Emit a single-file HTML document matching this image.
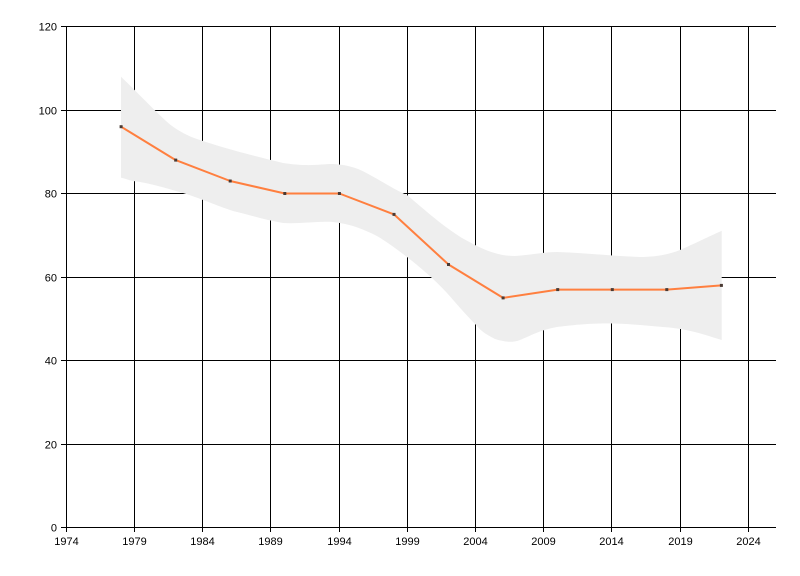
<!DOCTYPE html>
<html>
<head>
<meta charset="utf-8">
<style>
html,body{margin:0;padding:0;background:#fff;}
body{width:800px;height:576px;overflow:hidden;}
svg{display:block;}
text{font-family:"Liberation Sans",Arial,sans-serif;font-size:11px;fill:#000;}
</style>
</head>
<body>
<svg width="800" height="576" viewBox="0 0 800 576" xmlns="http://www.w3.org/2000/svg">
  <!-- grid -->
  <g stroke="#000" stroke-width="1" shape-rendering="crispEdges">
    <!-- horizontal -->
    <line x1="61" y1="26.5" x2="776" y2="26.5"/>
    <line x1="61" y1="110.5" x2="776" y2="110.5"/>
    <line x1="61" y1="193.5" x2="776" y2="193.5"/>
    <line x1="61" y1="277.5" x2="776" y2="277.5"/>
    <line x1="61" y1="360.5" x2="776" y2="360.5"/>
    <line x1="61" y1="444.5" x2="776" y2="444.5"/>
    <line x1="61" y1="527.5" x2="776" y2="527.5"/>
    <!-- vertical -->
    <line x1="66.5" y1="26" x2="66.5" y2="532"/>
    <line x1="134.5" y1="26" x2="134.5" y2="532"/>
    <line x1="202.5" y1="26" x2="202.5" y2="532"/>
    <line x1="270.5" y1="26" x2="270.5" y2="532"/>
    <line x1="339.5" y1="26" x2="339.5" y2="532"/>
    <line x1="407.5" y1="26" x2="407.5" y2="532"/>
    <line x1="475.5" y1="26" x2="475.5" y2="532"/>
    <line x1="543.5" y1="26" x2="543.5" y2="532"/>
    <line x1="611.5" y1="26" x2="611.5" y2="532"/>
    <line x1="680.5" y1="26" x2="680.5" y2="532"/>
    <line x1="748.5" y1="26" x2="748.5" y2="532"/>
  </g>

  <!-- confidence band -->
  <path fill="#eeeeee" d="
    M121,76.7
    C135,90 150,106 166,121
    C177,131 190,137 200,140
    C220,147 250,155 283,163
    C310,167 320,164 333,164
    C350,165 360,169 370,175
    C385,183 395,190 407,195
    C425,210 440,224 462,238
    C480,248 495,256 515,256
    C530,255 545,252 557,252
    C585,253 613,256 640,257
    C657,257 670,254 680,250
    C700,241 712,235 721.7,230.7
    L721.7,340
    C705,335 690,329 663,327
    C640,325 620,323 600,323.5
    C580,324 565,326 557,327
    C540,330 530,336 520,340
    C512,343 505,342 495,339
    C485,334 480,330 477,326
    C465,314 455,302 447,293
    C435,280 420,267 407,257
    C395,248 385,240 373,234
    C360,228 350,224 333,222
    C317,221 300,224 283,223
    C265,220 250,215 233,211
    C215,205 205,200 183,193
    C165,188 150,183 133,181
    C128,180 124,178 121,177.7 Z"/>

  <!-- series line -->
  <polyline fill="none" stroke="#ff7f3f" stroke-width="2" stroke-linejoin="round"
    points="121.1,126.7 175.7,160.1 230.2,181.0 284.8,193.5 339.4,193.5 394.0,214.4 448.5,264.5 503.1,297.9 557.7,289.6 612.3,289.6 666.8,289.6 721.4,285.4"/>
  <!-- markers -->
  <g fill="#4a3a33">
    <rect x="119.6" y="125.2" width="3" height="3"/>
    <rect x="174.2" y="158.6" width="3" height="3"/>
    <rect x="228.7" y="179.5" width="3" height="3"/>
    <rect x="283.3" y="192" width="3" height="3"/>
    <rect x="337.9" y="192" width="3" height="3"/>
    <rect x="392.5" y="212.9" width="3" height="3"/>
    <rect x="447" y="263" width="3" height="3"/>
    <rect x="501.6" y="296.4" width="3" height="3"/>
    <rect x="556.2" y="288.1" width="3" height="3"/>
    <rect x="610.8" y="288.1" width="3" height="3"/>
    <rect x="665.3" y="288.1" width="3" height="3"/>
    <rect x="719.9" y="283.9" width="3" height="3"/>
  </g>

  <!-- y labels -->
  <g text-anchor="end">
    <text x="57" y="30.5">120</text>
    <text x="57" y="114.5">100</text>
    <text x="57" y="197.5">80</text>
    <text x="57" y="281.5">60</text>
    <text x="57" y="364.5">40</text>
    <text x="57" y="448.5">20</text>
    <text x="57" y="531.5">0</text>
  </g>
  <!-- x labels -->
  <g text-anchor="middle">
    <text x="66.5" y="545">1974</text>
    <text x="134.5" y="545">1979</text>
    <text x="202.5" y="545">1984</text>
    <text x="270.5" y="545">1989</text>
    <text x="339.5" y="545">1994</text>
    <text x="407.5" y="545">1999</text>
    <text x="475.5" y="545">2004</text>
    <text x="543.5" y="545">2009</text>
    <text x="611.5" y="545">2014</text>
    <text x="680.5" y="545">2019</text>
    <text x="748.5" y="545">2024</text>
  </g>
</svg>
</body>
</html>
